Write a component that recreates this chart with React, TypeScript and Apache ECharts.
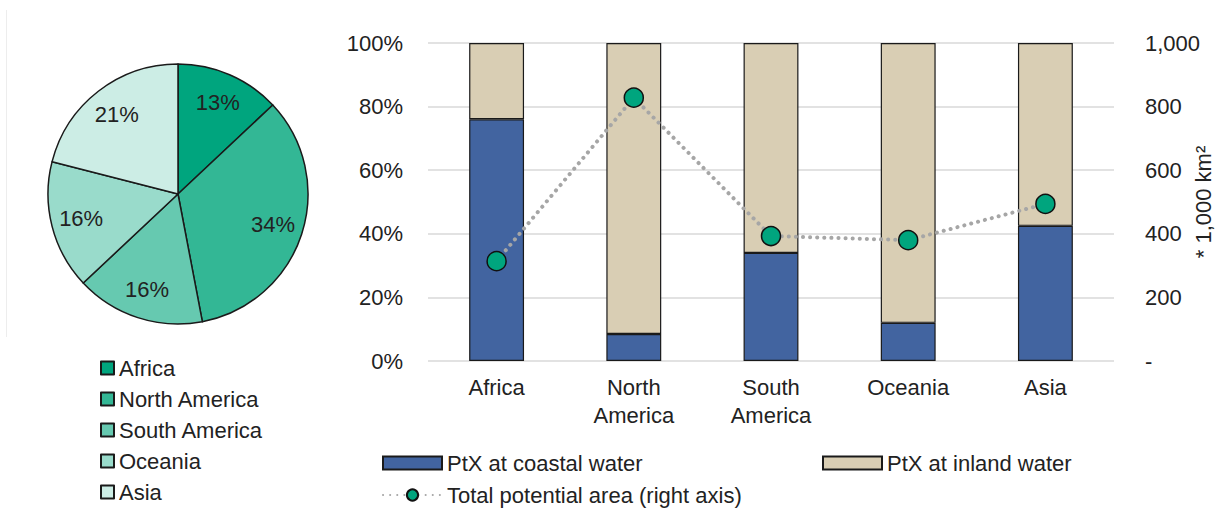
import React, { useEffect, useRef } from "react";
import * as echarts from "echarts";

// Share of total potential area by region (pie)
const regions = ["Africa", "North America", "South America", "Oceania", "Asia"];
const regionShare = [13, 34, 16, 16, 21];
const regionColors = ["#00A57E", "#33B795", "#66C9B0", "#99DBCB", "#CCEDE5"];

// Split of PtX potential by water source (stacked %), and total area on right axis
const categories = ["Africa", "North\nAmerica", "South\nAmerica", "Oceania", "Asia"];
const coastalShare = [76, 8.5, 34, 12, 42.5];
const inlandShare = coastalShare.map((v) => 100 - v);
const totalArea = [314, 828, 393, 380, 494];

const percentTicks = { min: 0, max: 100, interval: 20 };
const areaTicks = { min: 0, max: 1000, interval: 200 };

const SERIES_COASTAL = "PtX at coastal water";
const SERIES_INLAND = "PtX at inland water";
const SERIES_TOTAL = "Total potential area (right axis)";

const FONT = "'Liberation Sans', Arial, sans-serif";
const TEXT = "#222222";
const FS = 22;

export default function App() {
  const ref = useRef<HTMLDivElement>(null);

  useEffect(() => {
    if (!ref.current) return;
    const chart = echarts.init(ref.current, undefined, { renderer: "svg" });

    const pieData = regions.map((name, i) => ({
      name,
      value: regionShare[i],
      itemStyle: { color: regionColors[i] },
    }));

    const legendText = { fontSize: FS, color: TEXT, fontFamily: FONT };

    chart.setOption({
      animation: false,
      backgroundColor: "#ffffff",
      textStyle: { fontFamily: FONT, color: TEXT },
      graphic: [
        {
          type: "line",
          shape: { x1: 6.5, y1: 10, x2: 6.5, y2: 337 },
          style: { stroke: "#EDEDED", lineWidth: 1 },
          silent: true,
        },
      ],
      legend: [
        {
          data: regions,
          orient: "vertical",
          left: 100,
          top: 357,
          itemWidth: 13,
          itemHeight: 13,
          itemGap: 9,
          icon: "rect",
          padding: 0,
          textStyle: legendText,
          selectedMode: false,
        },
        {
          data: [SERIES_COASTAL],
          left: 382,
          top: 452,
          itemWidth: 59,
          itemHeight: 13,
          icon: "rect",
          padding: 0,
          textStyle: legendText,
          selectedMode: false,
        },
        {
          data: [SERIES_INLAND],
          left: 822,
          top: 452,
          itemWidth: 59,
          itemHeight: 13,
          icon: "rect",
          padding: 0,
          textStyle: legendText,
          selectedMode: false,
        },
        {
          data: [SERIES_TOTAL],
          left: 382,
          top: 484,
          itemWidth: 59,
          itemHeight: 14,
          padding: 0,
          textStyle: legendText,
          selectedMode: false,
        },
      ],
      grid: {
        left: 428,
        right: 102,
        top: 43,
        bottom: 170,
        containLabel: false,
        outerBoundsMode: "none",
      },
      xAxis: {
        type: "category",
        data: categories,
        axisLine: { show: false },
        axisTick: { show: false },
        axisLabel: {
          fontSize: FS,
          color: TEXT,
          fontFamily: FONT,
          lineHeight: 28,
          margin: 12,
        },
      },
      yAxis: [
        {
          type: "value",
          ...percentTicks,
          position: "left",
          axisLine: { show: false },
          axisTick: { show: false },
          splitLine: { lineStyle: { color: "#D9D9D9", width: 1.5 } },
          axisLabel: {
            formatter: "{value}%",
            fontSize: FS,
            color: TEXT,
            fontFamily: FONT,
            margin: 25,
          },
        },
        {
          type: "value",
          ...areaTicks,
          position: "right",
          axisLine: { show: false },
          axisTick: { show: false },
          splitLine: { show: false },
          axisLabel: {
            formatter: (v: number) => (v === 0 ? "-" : v.toLocaleString("en-US")),
            fontSize: FS,
            color: TEXT,
            fontFamily: FONT,
            margin: 31,
            align: "left",
          },
          name: "* 1,000 km²",
          nameLocation: "middle",
          nameRotate: 90,
          nameGap: 78,
          nameMoveOverlap: false,
          nameTextStyle: { fontSize: FS, color: TEXT, fontFamily: FONT },
        },
      ],
      series: [
        {
          type: "pie",
          name: "Share",
          center: [178, 194],
          radius: [0, 130],
          startAngle: 90,
          clockwise: true,
          data: pieData,
          itemStyle: { borderColor: "#1A1A1A", borderWidth: 1.5 },
          label: { show: false },
          labelLine: { show: false },
          emphasis: { disabled: true },
          silent: true,
        },
        {
          // label ring: places the percentage text further out than the default inside position
          type: "pie",
          name: "ShareLabels",
          center: [178, 194],
          radius: [64, 130],
          startAngle: 90,
          clockwise: true,
          data: regions.map((name, i) => ({ name, value: regionShare[i] })),
          itemStyle: { color: "rgba(0,0,0,0)", borderWidth: 0 },
          label: {
            show: true,
            position: "inside",
            formatter: "{c}%",
            fontSize: FS,
            color: TEXT,
            fontFamily: FONT,
          },
          labelLine: { show: false },
          emphasis: { disabled: true },
          silent: true,
          z: 3,
        },
        {
          type: "bar",
          name: SERIES_COASTAL,
          stack: "share",
          data: coastalShare,
          barWidth: "40%",
          itemStyle: { color: "#4264A0", borderColor: "#1A1A1A", borderWidth: 1.2 },
          emphasis: { disabled: true },
        },
        {
          type: "bar",
          name: SERIES_INLAND,
          stack: "share",
          data: inlandShare,
          barWidth: "40%",
          itemStyle: { color: "#D9CEB4", borderColor: "#1A1A1A", borderWidth: 1.2 },
          emphasis: { disabled: true },
        },
        {
          type: "line",
          name: SERIES_TOTAL,
          yAxisIndex: 1,
          data: totalArea,
          symbol: "circle",
          symbolSize: 19,
          lineStyle: { color: "#A6A6A6", width: 4, type: [0.1, 7], cap: "round" },
          itemStyle: { color: "#00A57E", borderColor: "#111111", borderWidth: 1.5 },
          emphasis: { disabled: true },
          z: 5,
        },
      ],
    });

    return () => chart.dispose();
  }, []);

  return (
    <div
      ref={ref}
      style={{ position: "absolute", left: 0, top: 0, width: 1216, height: 531 }}
    />
  );
}
